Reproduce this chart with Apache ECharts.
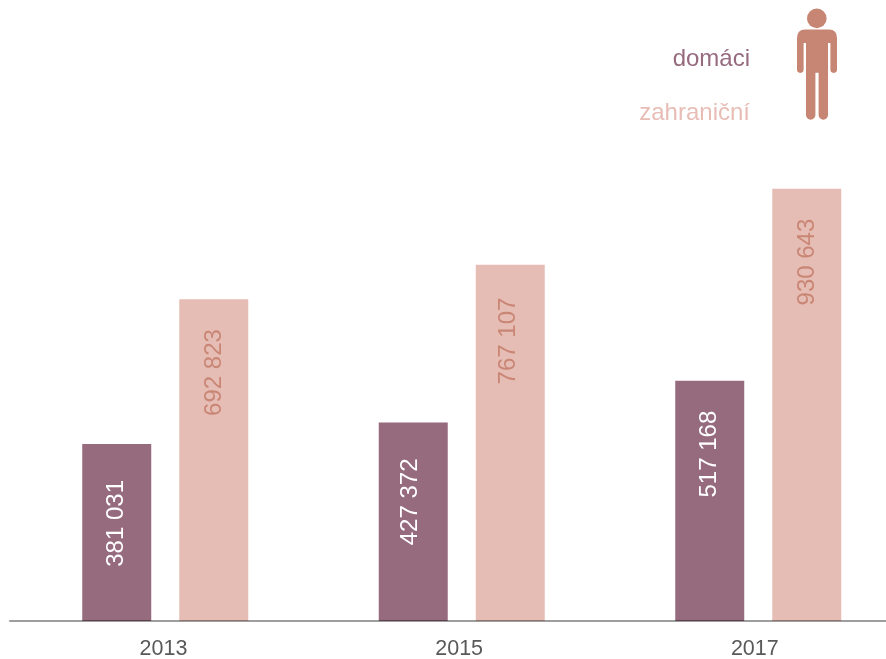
<!DOCTYPE html>
<html><head><meta charset="utf-8">
<style>html,body{margin:0;padding:0;background:#fff}#c{width:886px;height:659px}</style>
<script src="https://cdn.jsdelivr.net/npm/echarts@6/dist/echarts.min.js"></script>
</head><body><div id="c"></div>
<script>
const years = ['2013','2015','2017'];
const domaci = [381031,427372,517168];
const zahranicni = [692823,767107,930643];
const domaciName = 'domáci';
const zahranicniName = 'zahraniční';
const FONT = '"Liberation Sans", Arial, sans-serif';
const fmt = p => String(p.value).replace(/\B(?=(\d{3})+$)/g,' ');
const domaciLabelNudge = [[0,0],[0,-3],[6,0]];
const zahranicniLabelNudge = [[0,1],[-3,-2],[0,1]];
const personBody = 'M805 29.4H829Q837 29.4 837 38V69.6A3.3 3.3 0 0 1 830.4 69.6V43H828V115A4.7 4.7 0 0 1 818.6 115V72.7H815.4V115A4.7 4.7 0 0 1 806 115V43H803.6V69.6A3.3 3.3 0 0 1 797 69.6V38Q797 29.4 805 29.4Z';
echarts.graphic.registerShape('personBody', echarts.graphic.extendPath(personBody, {}));
const chart = echarts.init(document.getElementById('c'),null,{renderer:'canvas'});
chart.setOption({
  animation:false,
  textStyle:{fontFamily:FONT},
  legend:{
    orient:'vertical',align:'right',right:126,top:42,icon:'none',itemWidth:0,itemHeight:24,itemGap:30,
    selectedMode:false,
    data:[
      {name:domaciName,textStyle:{color:'#966b7e'}},
      {name:zahranicniName,textStyle:{color:'#e7bdb5'}}
    ],
    textStyle:{fontSize:24,fontFamily:FONT,padding:0}
  },
  grid:[
    {left:17,width:889.5,top:0,bottom:38,outerBoundsMode:'none'},
    {left:10,right:0,top:0,bottom:38,outerBoundsMode:'none'},
    {left:15.67,width:886.95,top:0,bottom:38,outerBoundsMode:'none'}
  ],
  xAxis:[
    {type:'category',gridIndex:0,data:years,axisLine:{show:false},axisTick:{show:false},axisLabel:{show:false}},
    {type:'category',gridIndex:1,data:[],z:5,axisTick:{show:false},axisLabel:{show:false},
     axisLine:{show:true,lineStyle:{color:'rgba(0,0,0,0.38)',width:2}}},
    {type:'category',gridIndex:2,data:years,axisLine:{show:false},axisTick:{show:false},
     axisLabel:{color:'#595959',fontSize:21.5,margin:17,fontFamily:FONT}}
  ],
  yAxis:[
    {type:'value',gridIndex:0,min:0,max:1336900,show:false},
    {type:'value',gridIndex:1,min:0,max:1,show:false},
    {type:'value',gridIndex:2,min:0,max:1,show:false}
  ],
  series:[
    {name:domaciName,type:'bar',barWidth:69,barGap:'40.6%',
     itemStyle:{color:'#966b7e'},
     data:domaci.map((v,i)=>({value:v,label:{offset:domaciLabelNudge[i]}})),
     label:{show:true,position:'insideTop',distance:36,rotate:90,align:'right',verticalAlign:'middle',
            color:'#fff',fontSize:24,fontFamily:FONT,formatter:fmt}},
    {name:zahranicniName,type:'bar',barWidth:69,barGap:'40.6%',
     itemStyle:{color:'#e6bdb5'},
     data:zahranicni.map((v,i)=>({value:v,label:{offset:zahranicniLabelNudge[i]}})),
     label:{show:true,position:'insideTop',distance:30,rotate:90,align:'right',verticalAlign:'middle',
            color:'#c98675',fontSize:24,fontFamily:FONT,formatter:fmt}}
  ],
  graphic:[
    {type:'circle',shape:{cx:816.8,cy:18.4,r:9.8},style:{fill:'#c78574'},silent:true},
    {type:'personBody',style:{fill:'#c78574'},silent:true}
  ]
});
</script></body></html>
